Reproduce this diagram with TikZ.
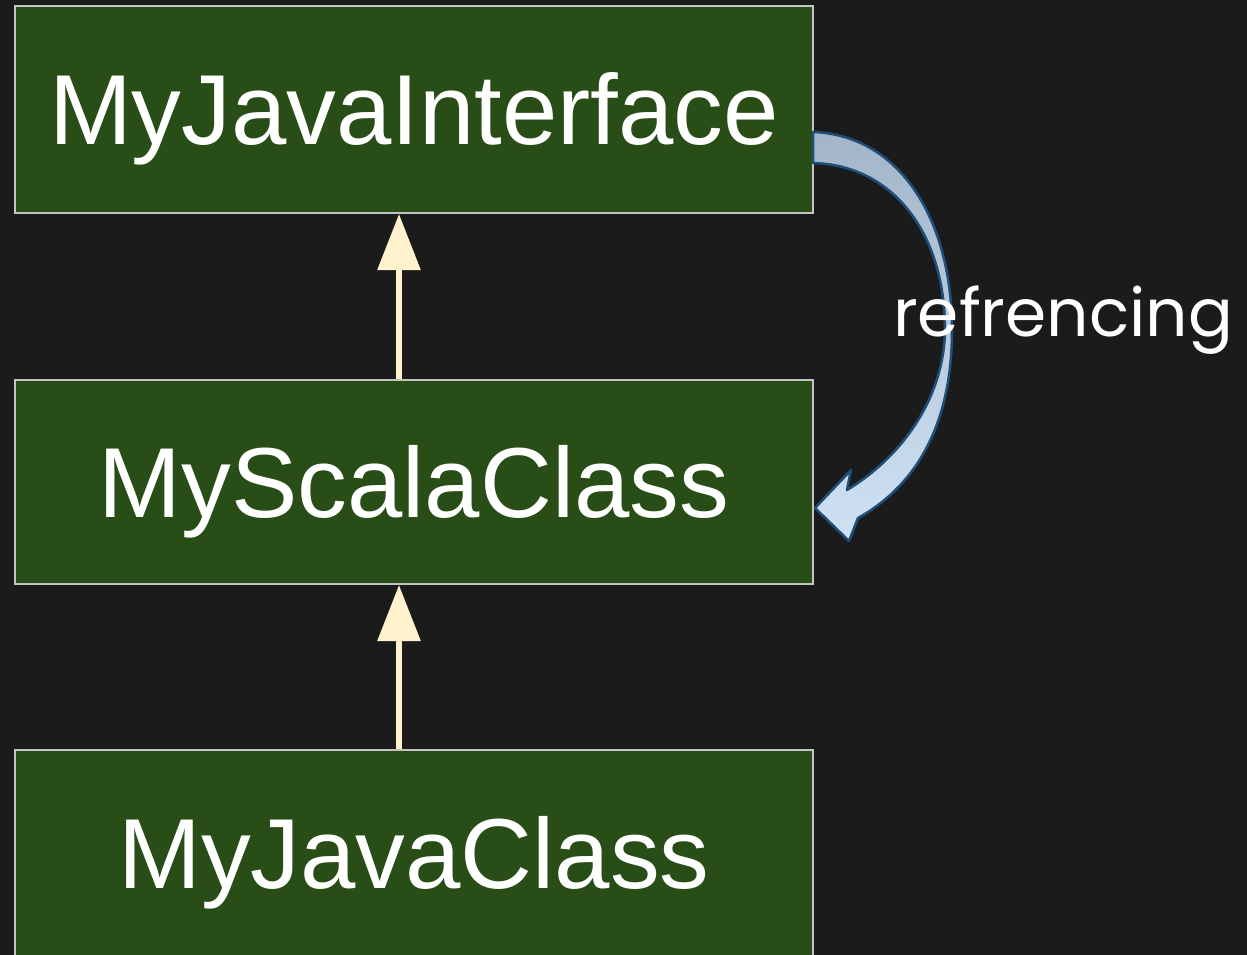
\documentclass[tikz,border=0pt]{standalone}
\usepackage{fontspec}
\setmainfont{Liberation Sans}
\newfontfamily\labelfont{Poppins}
\usetikzlibrary{arrows.meta}
\definecolor{bgcol}{HTML}{1B1B1B}
\definecolor{boxfill}{HTML}{284D16}
\definecolor{boxline}{HTML}{C4C4C4}
\definecolor{inhcol}{HTML}{FFF2CC}
\definecolor{refline}{HTML}{1F4E79}
\definecolor{reftop}{HTML}{A3B5C8}
\definecolor{refbot}{HTML}{CFE2F3}
\tikzset{
  classbox/.style={draw=boxline, line width=2pt, fill=boxfill, text=white,
    minimum width=798pt, inner sep=0pt, text height=71pt, text depth=0pt,
    font=\fontsize{99.5}{100}\selectfont},
  inherit/.style={draw=inhcol, line width=6pt,
    -{Triangle[length=56pt,width=42pt,fill=inhcol]}},
  refarrow/.style={draw=refline, line width=2.5pt, top color=reftop, bottom color=refbot, line join=round},
  reflabel/.style={text=white, inner sep=0pt}
}
\begin{document}
\begin{tikzpicture}[x=1pt,y=-1pt]
\fill[bgcol] (0,0) rectangle (1247,955);
\useasboundingbox (0,0) rectangle (1247,955);
\node[classbox, minimum height=207pt] (iface) at (414,109.5) {MyJavaInterface};
\node[classbox, minimum height=204pt] (scala) at (414,482) {MyScalaClass};
\node[classbox, minimum height=206pt] (jclass) at (414,853) {MyJavaClass};
\draw[inherit] ([xshift=-15pt]scala.north) -- ([xshift=-15pt]iface.south);
\draw[inherit] ([xshift=-15pt]jclass.north) -- ([xshift=-15pt]scala.south);
% block arrow "refrencing"
\path[refarrow] (813,132) .. controls (900,135) and (952,220) .. (952,330)
  .. controls (952,430) and (912,488) .. (858,518)
  -- (849,541) -- (815,508) -- (851,470) -- (847,490)
  .. controls (900,458) and (944,400) .. (945,330)
  .. controls (945,232) and (892,165) .. (813,163) -- cycle;
\node[reflabel, anchor=base west] (lbl) at (893,336)
  {\resizebox{340pt}{!}{\labelfont\fontsize{60}{62}\selectfont refrencing}};
\end{tikzpicture}
\end{document}
